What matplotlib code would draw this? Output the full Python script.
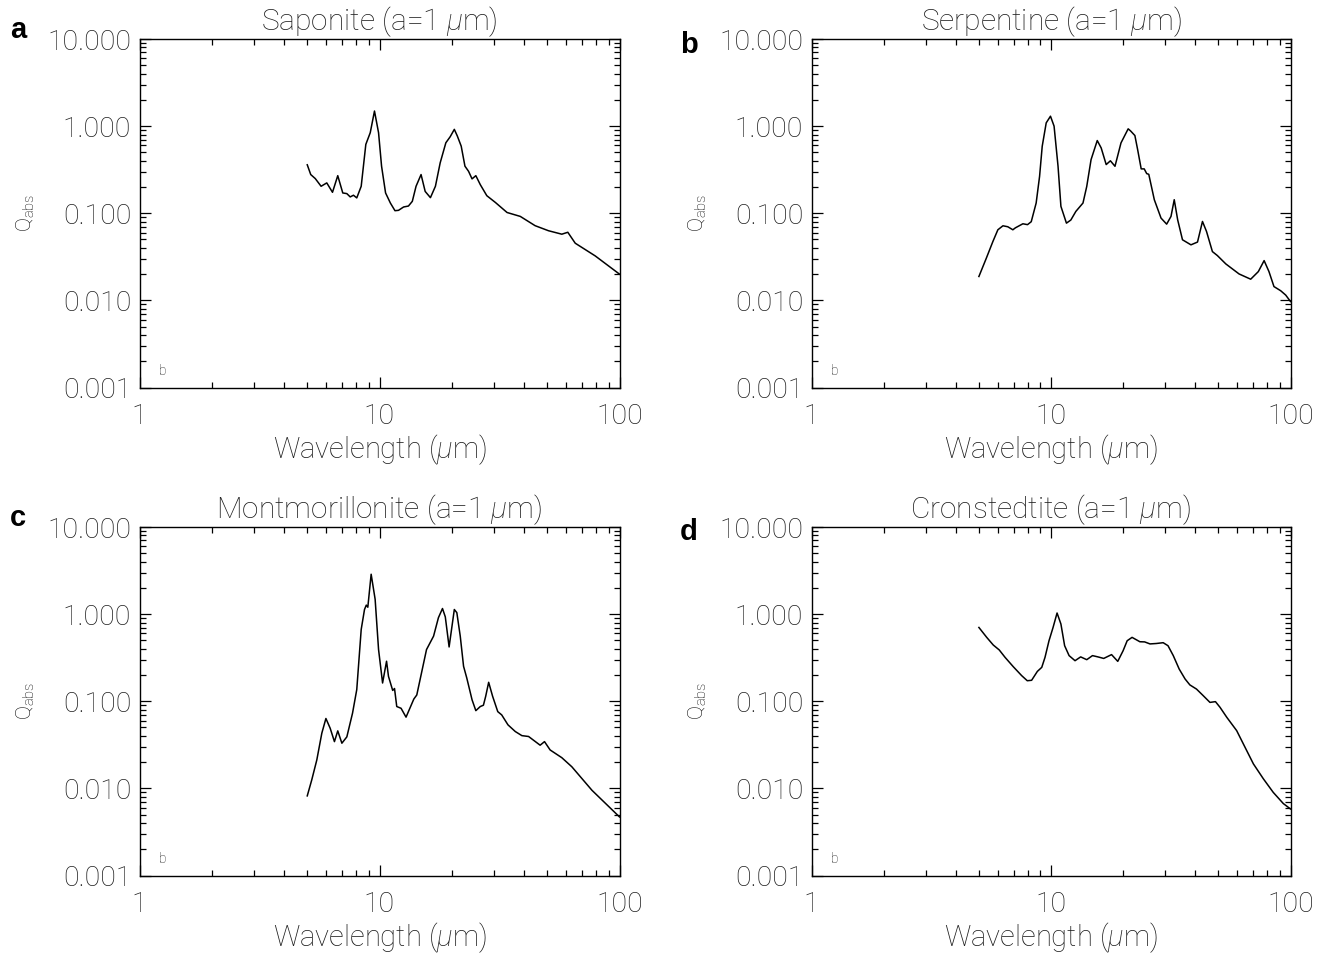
import numpy as np
import matplotlib
matplotlib.use("Agg")
import matplotlib.pyplot as plt
from matplotlib.ticker import FixedLocator, FixedFormatter, LogLocator, NullFormatter

plt.rcParams['font.family'] = ['Roboto', 'DejaVu Sans']
plt.rcParams['font.weight'] = 'light'
plt.rcParams['axes.titleweight'] = 'light'
plt.rcParams['axes.labelweight'] = 'light'
plt.rcParams['mathtext.fontset'] = 'custom'
plt.rcParams['mathtext.rm'] = 'Roboto:light'
plt.rcParams['mathtext.it'] = 'Roboto:italic:light'
plt.rcParams['mathtext.bf'] = 'Roboto:bold'

# Saponite
lam_sap = [5.0, 5.17, 5.40, 5.71, 6.03, 6.37, 6.70, 7.03, 7.31, 7.55, 7.79, 8.04, 8.39, 8.77,
           9.15, 9.53, 9.91, 10.2, 10.6, 11.1, 11.6, 12.0, 12.6, 13.2, 13.7, 14.2, 14.9, 15.5,
           16.3, 17.1, 17.9, 18.9, 19.7, 20.5, 21.1, 21.9, 22.7, 23.5, 24.3, 25.2, 26.3, 28.0,
           30.4, 34.0, 38.6, 44.5, 50.6, 57.5, 60.9, 65.4, 79.2, 100.0]
q_sap = [0.36, 0.278, 0.25, 0.204, 0.223, 0.174, 0.27, 0.171, 0.168, 0.154, 0.161, 0.150,
         0.204, 0.617, 0.84, 1.49, 0.84, 0.347, 0.171, 0.131, 0.107, 0.108, 0.118, 0.121,
         0.137, 0.204, 0.278, 0.178, 0.151, 0.204, 0.379, 0.644, 0.755, 0.918, 0.77, 0.589,
         0.347, 0.303, 0.248, 0.27, 0.213, 0.159, 0.133, 0.102, 0.092, 0.072, 0.063, 0.0575,
         0.0605, 0.0453, 0.0324, 0.020]

# Serpentine
lam_ser = [5.0, 5.37, 5.72, 6.0, 6.30, 6.6, 6.93, 7.1, 7.63, 7.98, 8.27, 8.67, 8.96, 9.19,
           9.55, 9.95, 10.3, 10.7, 11.0, 11.6, 12.1, 12.7, 13.6, 14.1, 14.7, 15.6, 16.2, 17.0,
           17.7, 18.5, 19.6, 21.0, 21.5, 22.4, 23.0, 23.8, 24.5, 25.1, 25.6, 27.0, 28.8, 30.4,
           31.7, 32.7, 33.8, 35.4, 38.4, 40.9, 42.9, 44.6, 47.2, 49.5, 53.7, 61.0, 68.2, 73.4,
           77.6, 81.3, 85.3, 91.0, 95.5, 100.0]
q_ser = [0.0188, 0.0305, 0.0474, 0.0646, 0.0718, 0.070, 0.0646, 0.068, 0.0757, 0.074, 0.080,
         0.131, 0.265, 0.587, 1.09, 1.30, 1.0, 0.346, 0.120, 0.077, 0.0836, 0.105, 0.131,
         0.203, 0.413, 0.683, 0.562, 0.362, 0.40, 0.346, 0.642, 0.931, 0.88, 0.78, 0.538,
         0.323, 0.323, 0.285, 0.28, 0.143, 0.088, 0.075, 0.092, 0.143, 0.084, 0.0496, 0.0434,
         0.0467, 0.0805, 0.0618, 0.0363, 0.0327, 0.0262, 0.0201, 0.0175, 0.0214, 0.0286,
         0.0214, 0.0144, 0.0129, 0.0115, 0.0097]

# Montmorillonite
lam_mon = [5.0, 5.22, 5.48, 5.75, 5.98, 6.23, 6.49, 6.70, 6.97, 7.31, 7.72, 8.04, 8.39, 8.66,
           8.81, 8.94, 9.23, 9.59, 9.91, 10.3, 10.7, 10.9, 11.35, 11.55, 11.8, 12.3, 12.9,
           13.9, 14.3, 15.7, 16.8, 17.6, 18.3, 18.8, 19.5, 19.96, 20.5, 21.0, 21.7, 22.4,
           23.1, 24.3, 25.2, 26.3, 27.1, 27.7, 28.5, 29.6, 31.1, 32.3, 34.3, 36.8, 39.2, 41.8,
           46.7, 48.7, 51.4, 57.5, 63.3, 76.8, 100.0]
q_mon = [0.0082, 0.0125, 0.0212, 0.043, 0.0634, 0.049, 0.0344, 0.0457, 0.033, 0.039, 0.073,
         0.136, 0.667, 1.13, 1.27, 1.2, 2.87, 1.48, 0.392, 0.162, 0.288, 0.193, 0.133, 0.14,
         0.087, 0.083, 0.0657, 0.106, 0.118, 0.392, 0.559, 0.91, 1.16, 0.93, 0.42, 0.667,
         1.13, 1.04, 0.559, 0.252, 0.185, 0.104, 0.078, 0.087, 0.09, 0.114, 0.165, 0.114,
         0.076, 0.0697, 0.0536, 0.0449, 0.0403, 0.0394, 0.0313, 0.0344, 0.0276, 0.0225,
         0.0177, 0.0095, 0.0047]

# Cronstedtite
lam_cro = [5.0, 5.39, 5.74, 6.08, 6.43, 6.96, 7.54, 7.96, 8.3, 8.77, 9.15, 9.44, 9.81, 10.2,
           10.6, 11.0, 11.4, 11.9, 12.6, 13.3, 14.1, 14.9, 15.7, 16.6, 17.9, 19.0, 20.0, 20.8,
           21.8, 23.5, 24.6, 25.9, 27.5, 29.4, 30.8, 32.4, 34.3, 36.3, 38.0, 40.5, 43.2, 46.1,
           48.6, 50.8, 54.2, 59.6, 64.6, 70.0, 77.0, 84.7, 93.3, 100.0]
q_cro = [0.703, 0.541, 0.442, 0.388, 0.319, 0.249, 0.197, 0.172, 0.174, 0.220, 0.245, 0.319,
         0.495, 0.703, 1.03, 0.77, 0.434, 0.334, 0.292, 0.323, 0.30, 0.334, 0.323, 0.31,
         0.343, 0.287, 0.380, 0.495, 0.541, 0.482, 0.48, 0.455, 0.46, 0.47, 0.434, 0.334,
         0.234, 0.180, 0.154, 0.138, 0.116, 0.097, 0.099, 0.0851, 0.0654, 0.046, 0.0296,
         0.0191, 0.0129, 0.0090, 0.0067, 0.0058]

titles = ['Saponite (a=1 $\\mu$m)', 'Serpentine (a=1 $\\mu$m)',
          'Montmorillonite (a=1 $\\mu$m)', 'Cronstedtite (a=1 $\\mu$m)']
letters = ['a', 'b', 'c', 'd']
curves = [(lam_sap, q_sap), (lam_ser, q_ser), (lam_mon, q_mon), (lam_cro, q_cro)]

yticks = [0.001, 0.01, 0.1, 1.0, 10.0]
xticks = [1, 10, 100]

W, H = 1332, 956
fig = plt.figure(figsize=(W / 100, H / 100), dpi=100)

# panel boxes in pixels: left, top, right, bottom
boxes = [(139.5, 39, 619.5, 387.5), (811.5, 39, 1290.5, 387.5),
         (139.5, 527, 619.5, 875.5), (811.5, 527, 1290.5, 875.5)]
letter_pos = [(10, 30), (680, 45), (10, 518), (680, 532)]

txtcol = '#1e1e1e'
for i, (l, t, r, b) in enumerate(boxes):
    ax = fig.add_axes([l / W, 1 - b / H, (r - l) / W, (b - t) / H])
    lam, q = curves[i]
    ax.plot(lam, q, color='black', lw=1.1)
    ax.set_xscale('log')
    ax.set_yscale('log')
    ax.set_xlim(1, 100)
    ax.set_ylim(0.001, 10)
    ax.xaxis.set_major_locator(FixedLocator(xticks))
    ax.xaxis.set_major_formatter(FixedFormatter([str(v) for v in xticks]))
    ax.yaxis.set_major_locator(FixedLocator(yticks))
    ax.yaxis.set_major_formatter(FixedFormatter(['%.3f' % v for v in yticks]))
    ax.xaxis.set_minor_locator(LogLocator(base=10, subs=np.arange(2, 10)))
    ax.yaxis.set_minor_locator(LogLocator(base=10, subs=np.arange(2, 10)))
    ax.xaxis.set_minor_formatter(NullFormatter())
    ax.yaxis.set_minor_formatter(NullFormatter())
    ax.tick_params(which='both', direction='in', top=True, right=True, width=0.9,
                   colors='black', labelcolor=txtcol, labelsize=20.5)
    ax.tick_params(which='major', length=8)
    ax.tick_params(which='minor', length=4.5)
    ax.tick_params(axis='x', which='major', pad=11)
    ax.tick_params(axis='y', which='major', pad=6)
    for sp in ax.spines.values():
        sp.set_linewidth(1.0)
    ax.set_title(titles[i], fontsize=21.5, color=txtcol, pad=6)
    ax.set_xlabel('Wavelength ($\\mu$m)', fontsize=21, color=txtcol, labelpad=2)
    ax.set_ylabel('Q$_{\\rm abs}$', fontsize=15, color='black', labelpad=7)
    ax.text(1.2, 0.0014, 'b', fontsize=10, color='#222222')
    lx, ly = letter_pos[i]
    fig.text(lx / W, 1 - ly / H, letters[i], fontsize=21, fontweight='bold',
             family='Liberation Sans', color='black', va='center', ha='left')

fig.savefig('out.png', dpi=100)
